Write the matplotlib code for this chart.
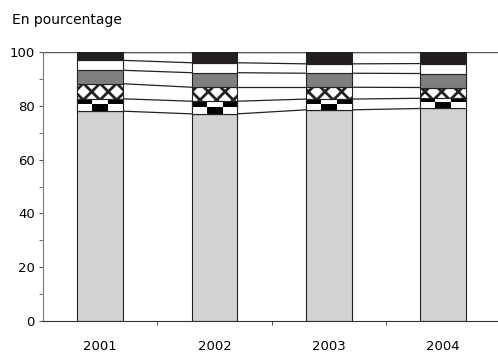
import numpy as np
import matplotlib
matplotlib.use("Agg")
import matplotlib.pyplot as plt

# Données (en pourcentage)
annees = ['2001', '2002', '2003', '2004']
gris_clair = [78.0, 77.0, 78.5, 79.0]
damier = [4.6, 4.7, 4.0, 3.8]
croisillons = [5.6, 5.2, 4.4, 4.0]
gris_fonce = [5.0, 5.4, 5.2, 5.2]
blanc = [3.7, 3.7, 3.5, 3.7]
noir = [3.1, 4.0, 4.4, 4.3]

plt.rcParams['font.family'] = ['DejaVu Sans']
plt.rcParams['hatch.linewidth'] = 2.0

fig = plt.figure(figsize=(4.98, 3.54), dpi=100)
ax = fig.add_axes([43 / 498, 1 - 321 / 354, 455 / 498, (321 - 52) / 354])

x = np.arange(len(annees))
largeur = 0.40
series = [
    (gris_clair, dict(color='#d1d2d4')),
    (damier, dict(color='white')),
    (croisillons, dict(color='white', hatch='xx')),
    (gris_fonce, dict(color='#7f7f7f')),
    (blanc, dict(color='white')),
    (noir, dict(color='#231f20')),
]

bas = np.zeros(len(annees))
niveaux = []
conteneurs = []
for valeurs, style in series:
    barres = ax.bar(x, valeurs, largeur, bottom=bas, edgecolor='#222222',
                    linewidth=0.8, zorder=2, **style)
    conteneurs.append(barres)
    bas = bas + np.array(valeurs)
    niveaux.append(bas.copy())

# motif en damier pour la deuxième série
motif = np.indices((2, 3)).sum(axis=0) % 2
for barre in conteneurs[1]:
    x0, y0 = barre.get_x(), barre.get_y()
    w, h = barre.get_width(), barre.get_height()
    im = ax.imshow(motif, cmap='gray', interpolation='nearest', aspect='auto',
                   extent=(x0, x0 + w, y0, y0 + h), zorder=2.5)
    im.set_clip_path(barre)
    ax.bar(x0 + w / 2, h, w, bottom=y0, fill=False, edgecolor='#222222',
           linewidth=0.8, zorder=3)

# lignes de liaison entre les barres
for niveau in niveaux:
    for i in range(len(annees) - 1):
        ax.plot([x[i] + largeur / 2, x[i + 1] - largeur / 2],
                [niveau[i], niveau[i + 1]], color='#222222', lw=0.9, zorder=1)

ax.axhline(100, color='#555555', lw=1.0, zorder=1)

ax.set_xlim(-0.5, 3.48)
ax.set_ylim(0, 100)
ax.set_yticks(range(0, 101, 20))
ax.set_yticks(range(10, 100, 20), minor=True)
ax.set_xticks(x)
ax.set_xticklabels(annees)
ax.set_xticks([0.5, 1.5, 2.5], minor=True)
ax.tick_params(axis='x', which='major', length=0, pad=14, labelsize=9.5)
ax.tick_params(axis='x', which='minor', length=3, direction='out', color='#333333')
ax.tick_params(axis='y', which='both', length=3, direction='out', labelsize=9.5,
               color='#555555', pad=3)

for s in ['top', 'right']:
    ax.spines[s].set_visible(False)
ax.spines['left'].set_color('#777777')
ax.spines['bottom'].set_color('#333333')

fig.text(12 / 498, 1 - 20 / 354, 'En pourcentage', fontsize=10, va='center')

fig.savefig('out.png', dpi=100)
